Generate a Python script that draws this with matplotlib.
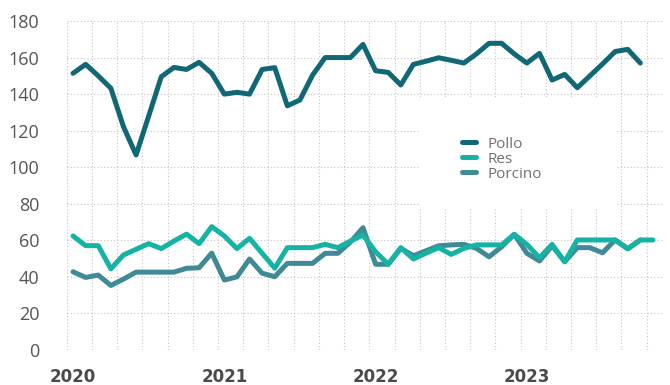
import matplotlib
matplotlib.use('Agg')
import matplotlib.pyplot as plt
import numpy as np
from matplotlib.patches import Rectangle

# ---- data (monthly, Jan 2020 onward) ----
years = ['2020', '2021', '2022', '2023']
year_pos = [0, 12, 24, 36]

pollo = [151.4, 156.3, 150, 143.2, 122.2, 106.7, 128, 149.5, 154.6, 153.5,
         157.4, 151.4, 140, 141, 140, 153.5, 154.5, 133.6, 136.8, 150.4,
         160, 160, 160, 167.2, 152.8, 151.9, 145, 156.3, 158, 159.9,
         158.5, 157, 162, 167.8, 167.8, 162, 157, 162.3, 147.7, 150.8,
         143.5, 150, 156.5, 163.3, 164.5, 157]

res = [62.4, 57.1, 57.1, 44.4, 52, 55.1, 58.2, 55.5, 59.6, 63.4,
       58.2, 67.5, 62.4, 55.5, 61.1, 52.9, 44.8, 56, 56, 56,
       57.8, 56, 59.6, 62.9, 53.8, 46.9, 56, 49.8, 53, 56,
       52.3, 55.6, 57.5, 57.5, 57.5, 63.3, 57.8, 50.5, 57.8, 48.3,
       60.2, 60.2, 60.2, 60.2, 55.4, 60.2, 60.2]

porcino = [42.8, 39.7, 41, 35.3, 38.8, 42.6, 42.6, 42.6, 42.6, 44.7,
           45, 53, 38.3, 40, 49.8, 42, 40.1, 47.4, 47.4, 47.4,
           52.9, 52.9, 59, 66.9, 46.9, 46.9, 55.6, 51.6, 54.3, 57,
           57.5, 57.8, 55.6, 51, 56.5, 63.3, 52.9, 48.7, 57, 48.3,
           56, 56, 53.2, 60.2, 55.4, 60.2]

c_pollo = '#106877'
c_res = '#14b3a3'
c_porcino = '#3f8a96'

fig = plt.figure(figsize=(6.7, 3.85), dpi=100)
ax = fig.add_axes([0.0996, 0.0909, 0.890, 0.8545])

lw = 3.6
kw = dict(lw=lw, solid_capstyle='round', solid_joinstyle='round')
l_por, = ax.plot(np.arange(len(porcino)), porcino, color=c_porcino, zorder=3, label='Porcino', **kw)
l_res, = ax.plot(np.arange(len(res)), res, color=c_res, zorder=4, label='Res', **kw)
l_pol, = ax.plot(np.arange(len(pollo)), pollo, color=c_pollo, zorder=5, label='Pollo', **kw)

ax.set_xlim(-0.5, 46.8)
ax.set_ylim(0, 180)
ax.set_yticks(range(0, 181, 20))
ax.set_xticks(year_pos)
ax.set_xticklabels(years)
ax.set_xticks(np.arange(-0.5, 46.8, 2), minor=True)

ax.set_axisbelow(True)
grid_kw = dict(color='#c4c4c4', lw=0.8, linestyle=(0, (1, 2)))
ax.grid(axis='y', which='major', **grid_kw)
ax.grid(axis='x', which='minor', **grid_kw)
ax.grid(axis='x', which='major', visible=False)

for s in ax.spines.values():
    s.set_visible(False)

ax.tick_params(which='both', length=0)
ax.tick_params(axis='y', pad=19.7, labelsize=13, labelcolor='#555555')
ax.tick_params(axis='x', pad=13, labelsize=12, labelcolor='#4a4a4a')
for t in ax.get_yticklabels():
    t.set_fontfamily('Open Sans')
for t in ax.get_xticklabels():
    t.set_fontfamily('DejaVu Sans')
    t.set_fontweight('bold')

# white box behind legend (covers grid)
ax.add_patch(Rectangle((0.5924, 0.4347), 0.3305, 0.3343, transform=ax.transAxes,
                       facecolor='white', edgecolor='none', zorder=1))

leg = ax.legend(handles=[l_pol, l_res, l_por], loc='center',
                bbox_to_anchor=(0.730, 0.5805), frameon=False,
                prop={'family': 'Open Sans', 'size': 11},
                handlelength=0.9, handletextpad=0.8, labelspacing=0.0,
                borderpad=0.2)
for t in leg.get_texts():
    t.set_color('#707070')

fig.savefig('out.png', dpi=100)
